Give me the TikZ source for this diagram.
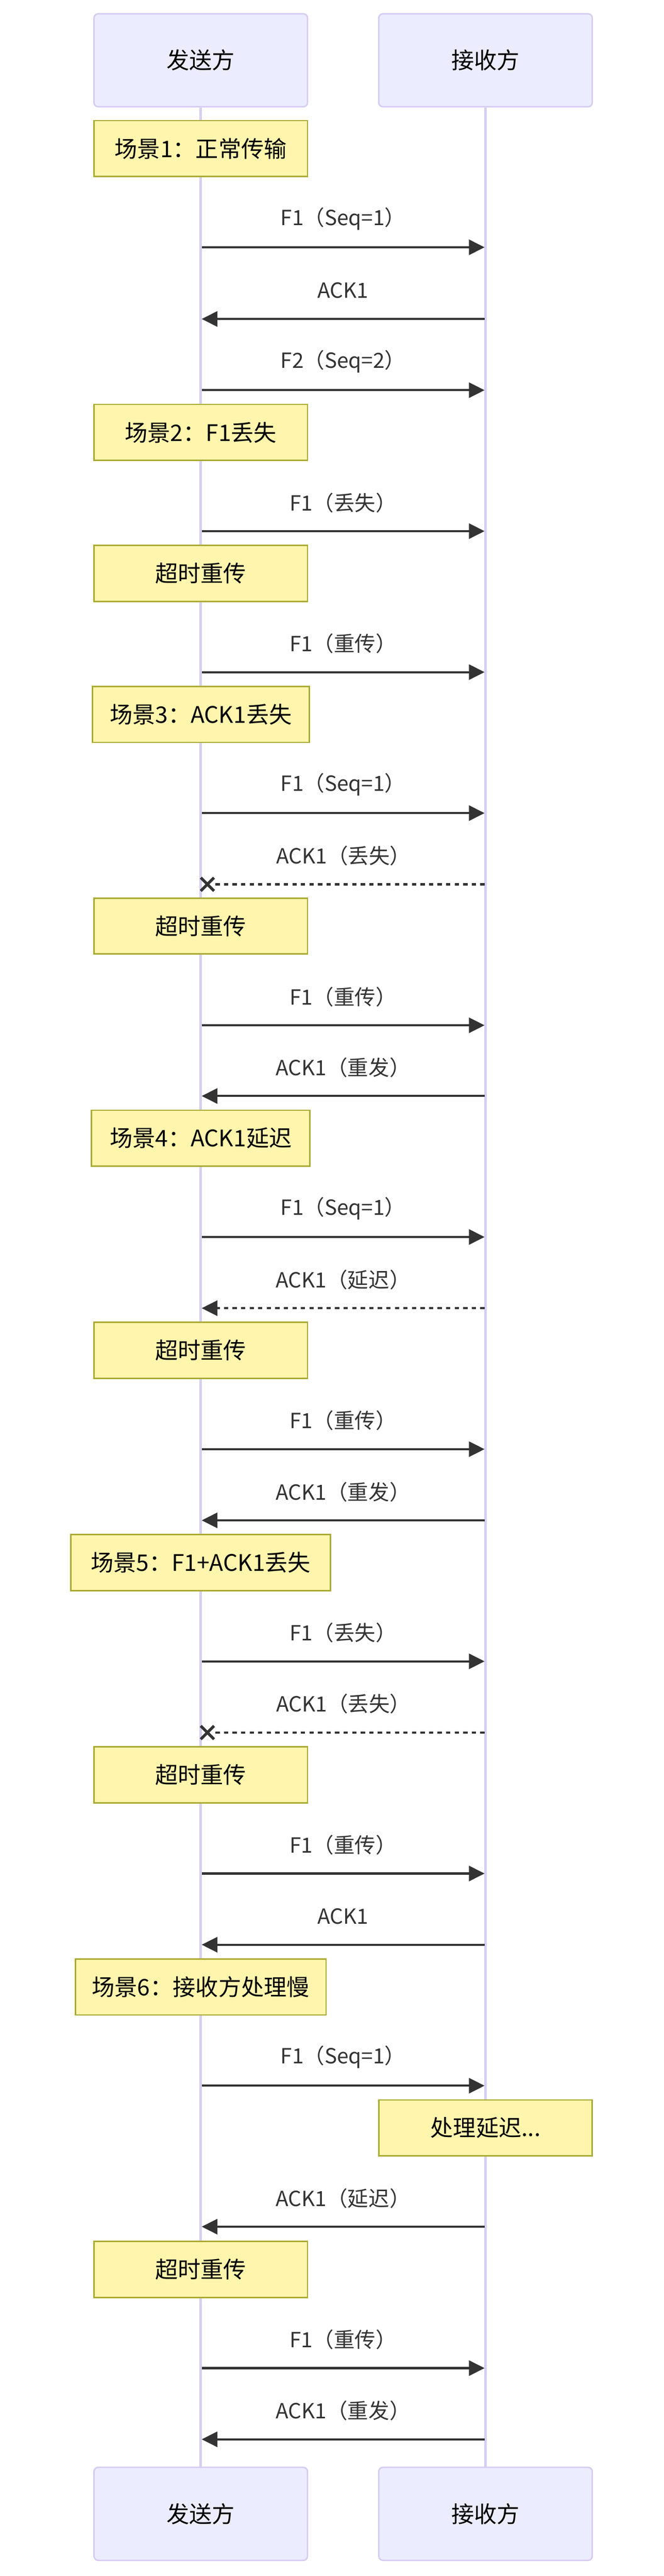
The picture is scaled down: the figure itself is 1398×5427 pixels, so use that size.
\documentclass[tikz,border=0pt]{standalone}
\usepackage{fontspec}
\setmainfont{Noto Sans CJK SC}
\usetikzlibrary{arrows.meta, positioning, shapes.misc}
\definecolor{actorfill}{HTML}{ECECFF}
\definecolor{actorline}{HTML}{D5CBF2}
\definecolor{lifecolor}{HTML}{D8CEF2}
\definecolor{notefill}{HTML}{FFF5AD}
\definecolor{noteline}{HTML}{AAAA33}
\definecolor{msgcolor}{HTML}{333333}
\tikzset{
  actor/.style={rectangle, rounded corners=9pt, draw=actorline, fill=actorfill, line width=3pt, minimum width=450pt, minimum height=196pt, font=\fontsize{48}{58}\selectfont},
  note/.style={rectangle, draw=noteline, fill=notefill, line width=3pt, minimum width=450pt, minimum height=118pt, inner xsep=0pt, font=\fontsize{48}{58}\selectfont},
  lifeline/.style={draw=lifecolor, line width=5pt},
  msg/.style={-{Triangle[length=33pt,width=32pt]}, draw=msgcolor, line width=4.5pt},
  asyncmsg/.style={msg, dash pattern=on 9pt off 9pt},
  lostmsg/.style={draw=msgcolor, line width=4.5pt, dash pattern=on 9pt off 9pt},
  lostmark/.style={cross out, draw=msgcolor, line width=6pt, minimum size=22pt, inner sep=0pt},
  msglabel/.style={font=\fontsize{44}{52}\selectfont, text=msgcolor, yshift=60pt}
}

\begin{document}
\begin{tikzpicture}[x=1pt, y=-1pt]
  \useasboundingbox (0,0) rectangle (1398,5427);

  % Actors (top and bottom)
  \node[actor] (sndtop) at (423,127) {发送方};
  \node[actor] (rcvtop) at (1023,127) {接收方};
  \node[actor] (sndbot) at (423,5296) {发送方};
  \node[actor] (rcvbot) at (1023,5296) {接收方};

  % Lifelines
  \draw[lifeline] (sndtop.south) -- (sndbot.north);
  \draw[lifeline] (rcvtop.south) -- (rcvbot.north);

  % Notes
  \node[note] (n1) at (423,313) {场景1：正常传输};
  \node[note] (n2) at (423,911) {场景2：F1丢失};
  \node[note] (n3) at (423,1208) {超时重传};
  \node[note, minimum width=457pt] (n4) at (423,1505) {场景3：ACK1丢失};
  \node[note] (n5) at (423,1951) {超时重传};
  \node[note, minimum width=460pt] (n6) at (423,2398) {场景4：ACK1延迟};
  \node[note] (n7) at (423,2845) {超时重传};
  \node[note, minimum width=547pt] (n8) at (423,3292) {场景5：F1+ACK1丢失};
  \node[note] (n9) at (423,3739) {超时重传};
  \node[note, minimum width=528pt] (n10) at (423,4186) {场景6：接收方处理慢};
  \node[note] (n11) at (1023,4483) {处理延迟...};
  \node[note] (n12) at (423,4781) {超时重传};

  % Message end points on the lifelines
  \coordinate (s1) at (425,521);   \coordinate (r1) at (1021,521);
  \coordinate (s2) at (425,672);   \coordinate (r2) at (1021,672);
  \coordinate (s3) at (425,822);   \coordinate (r3) at (1021,822);
  \coordinate (s4) at (425,1119);  \coordinate (r4) at (1021,1119);
  \coordinate (s5) at (425,1416);  \coordinate (r5) at (1021,1416);
  \coordinate (s6) at (425,1713);  \coordinate (r6) at (1021,1713);
  \node[lostmark] (x7) at (437,1863) {};  \coordinate (r7) at (1021,1863);
  \coordinate (s8) at (425,2160);  \coordinate (r8) at (1021,2160);
  \coordinate (s9) at (425,2309);  \coordinate (r9) at (1021,2309);
  \coordinate (s10) at (425,2606); \coordinate (r10) at (1021,2606);
  \coordinate (s11) at (425,2756); \coordinate (r11) at (1021,2756);
  \coordinate (s12) at (425,3053); \coordinate (r12) at (1021,3053);
  \coordinate (s13) at (425,3203); \coordinate (r13) at (1021,3203);
  \coordinate (s14) at (425,3500); \coordinate (r14) at (1021,3500);
  \node[lostmark] (x15) at (437,3650) {}; \coordinate (r15) at (1021,3650);
  \coordinate (s16) at (425,3947); \coordinate (r16) at (1021,3947);
  \coordinate (s17) at (425,4097); \coordinate (r17) at (1021,4097);
  \coordinate (s18) at (425,4394); \coordinate (r18) at (1021,4394);
  \coordinate (s19) at (425,4691); \coordinate (r19) at (1021,4691);
  \coordinate (s20) at (425,4989); \coordinate (r20) at (1021,4989);
  \coordinate (s21) at (425,5139); \coordinate (r21) at (1021,5139);

  % Scenario 1
  \draw[msg] (s1) -- node[msglabel] {F1（Seq=1）} (r1);
  \draw[msg] (r2) -- node[msglabel] {ACK1} (s2);
  \draw[msg] (s3) -- node[msglabel] {F2（Seq=2）} (r3);
  % Scenario 2
  \draw[msg] (s4) -- node[msglabel] {F1（丢失）} (r4);
  \draw[msg] (s5) -- node[msglabel] {F1（重传）} (r5);
  % Scenario 3
  \draw[msg] (s6) -- node[msglabel] {F1（Seq=1）} (r6);
  \draw[lostmsg] (r7) -- node[msglabel, xshift=-12pt] {ACK1（丢失）} (x7);
  \draw[msg] (s8) -- node[msglabel] {F1（重传）} (r8);
  \draw[msg] (r9) -- node[msglabel] {ACK1（重发）} (s9);
  % Scenario 4
  \draw[msg] (s10) -- node[msglabel] {F1（Seq=1）} (r10);
  \draw[asyncmsg] (r11) -- node[msglabel] {ACK1（延迟）} (s11);
  \draw[msg] (s12) -- node[msglabel] {F1（重传）} (r12);
  \draw[msg] (r13) -- node[msglabel] {ACK1（重发）} (s13);
  % Scenario 5
  \draw[msg] (s14) -- node[msglabel] {F1（丢失）} (r14);
  \draw[lostmsg] (r15) -- node[msglabel, xshift=-12pt] {ACK1（丢失）} (x15);
  \draw[msg] (s16) -- node[msglabel] {F1（重传）} (r16);
  \draw[msg] (r17) -- node[msglabel] {ACK1} (s17);
  % Scenario 6
  \draw[msg] (s18) -- node[msglabel] {F1（Seq=1）} (r18);
  \draw[msg] (r19) -- node[msglabel] {ACK1（延迟）} (s19);
  \draw[msg] (s20) -- node[msglabel] {F1（重传）} (r20);
  \draw[msg] (r21) -- node[msglabel] {ACK1（重发）} (s21);
\end{tikzpicture}
\end{document}
